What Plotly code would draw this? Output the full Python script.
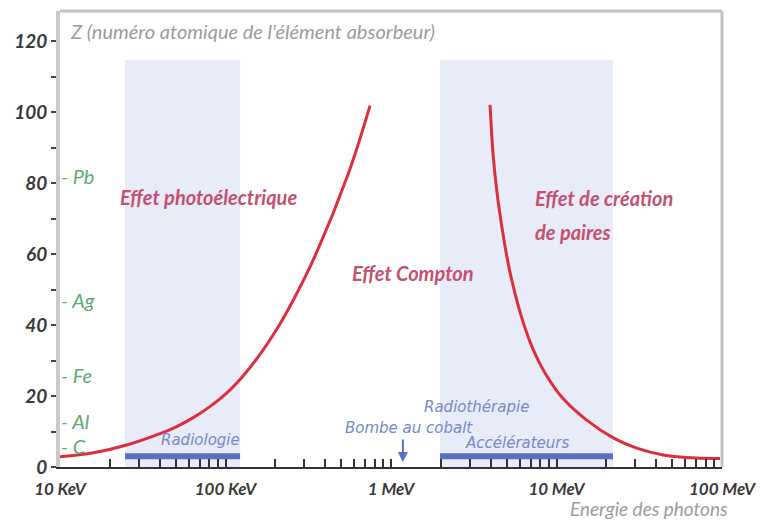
import numpy as np
import plotly.graph_objects as go

# ---- data (energies in keV, Z = atomic number) ----
photo_E = [10, 15.9, 25.3, 40.2, 50.8, 63.8, 80.5, 101.6, 128, 162, 204, 256, 345, 552, 747]
photo_Z = [2.9, 4.0, 6.2, 9.4, 11.4, 13.9, 17.0, 20.8, 25.7, 31.8, 38.8, 46.9, 59.1, 82.6, 101.8]
pair_E = [3965, 4151, 4353, 4667, 5001, 5362, 6301, 7241, 8520, 10990, 15220,
          22040, 30520, 44190, 70330, 97260]
pair_Z = [102.0, 87.3, 78.0, 67.9, 59.6, 52.7, 40.6, 33.0, 26.5, 19.2, 13.2,
          8.2, 5.3, 3.4, 2.5, 2.4]

x_tick_vals = [10, 100, 1000, 10000, 100000]
x_tick_text = ["10 KeV", "100 KeV", "1 MeV", "10 MeV", "100 MeV"]
x_minor_vals = [m * 10 ** k for k in range(1, 5) for m in range(2, 10)]
y_tick_vals = [0, 20, 40, 60, 80, 100, 120]
y_minor_vals = [10, 30, 50, 70, 90, 110]

elements = ["Pb", "Ag", "Fe", "Al", "C"]
element_Z = [82, 47, 26, 13, 6]

radiologie_range = [24.7, 122.5]
accel_range = [1977, 21940]
band_top = 114.6
bar_Z = 3.0
cobalt_E = 1180

LBL = "Lato"
RED = "#dc2f3c"
TXT_RED = "#c4516f"
BLUE_TXT = "#7788cc"
BLUE_BAR = "#5a6ec6"
GREEN = "#5aab6e"
SHADE = "#e8ebf8"

fig = go.Figure()

# shaded application bands
for rng in (radiologie_range, accel_range):
    fig.add_trace(go.Scatter(x=[rng[0], rng[1], rng[1], rng[0], rng[0]],
                             y=[0, 0, band_top, band_top, 0], mode="lines",
                             fill="toself", fillcolor=SHADE, line=dict(width=0),
                             hoverinfo="skip", showlegend=False))

# blue bars
for rng in (radiologie_range, accel_range):
    fig.add_trace(go.Scatter(x=rng, y=[bar_Z, bar_Z], mode="lines",
                             line=dict(color=BLUE_BAR, width=6),
                             hoverinfo="skip", showlegend=False))

# boundary curves
for ex, zz in ((photo_E, photo_Z), (pair_E, pair_Z)):
    fig.add_trace(go.Scatter(x=ex, y=zz, mode="lines",
                             line=dict(color=RED, width=3, shape="spline", smoothing=1.0),
                             hoverinfo="skip", showlegend=False))

shapes = [
    dict(type="line", xref="paper", yref="paper", x0=0, x1=1, y0=1, y1=1,
         line=dict(color="#c2c2c2", width=3)),
    dict(type="line", xref="paper", yref="paper", x0=1, x1=1, y0=0, y1=1,
         line=dict(color="#c2c2c2", width=3)),
]

W = 662.0
def px(xp):
    return (xp - 60) / W

ann = []
def txt(text, x, y, color, size, xanchor="left", family=LBL, weight="normal"):
    ann.append(dict(text=text, x=x, y=y, xref="paper", yref="y", showarrow=False,
                    xanchor=xanchor, yanchor="middle",
                    font=dict(family=family, size=size, color=color, style="italic",
                              weight=weight)))

txt("Z (numéro atomique de l'élément absorbeur)", px(68), 122.8, "#9c9c9c", 20)
txt("Effet photoélectrique", px(118), 76, TXT_RED, 20, weight="bold")
txt("Effet Compton", px(350), 54.6, TXT_RED, 20, weight="bold")
txt("Effet de création", px(533), 75.8, TXT_RED, 20, weight="bold")
txt("de paires", px(533), 66.2, TXT_RED, 20, weight="bold")
txt("Radiologie", px(200), 7.6, BLUE_TXT, 15, xanchor="center", family="DejaVu Sans")
txt("Bombe au cobalt", px(409), 11.0, BLUE_TXT, 15, xanchor="center", family="DejaVu Sans")
txt("Radiothérapie", px(476), 16.9, BLUE_TXT, 15, xanchor="center", family="DejaVu Sans")
txt("Accélérateurs", px(517), 6.8, BLUE_TXT, 15, xanchor="center", family="DejaVu Sans")
for el, z in zip(elements, element_Z):
    txt("- " + el, px(59), z, GREEN, 20)
ann.append(dict(text="Energie des photons", x=px(730), y=-0.09, xref="paper", yref="paper",
                showarrow=False, xanchor="right", yanchor="middle",
                font=dict(family=LBL, size=19, color="#9c9c9c", style="italic")))
ann.append(dict(text="", x=np.log10(cobalt_E), y=1.4, xref="x", yref="y",
                showarrow=True, ax=0, ay=-24, arrowhead=2, arrowsize=1,
                arrowwidth=2, arrowcolor=BLUE_BAR))

fig.update_layout(
    width=769, height=522,
    margin=dict(l=60, r=47, t=11, b=55),
    paper_bgcolor="white", plot_bgcolor="white",
    shapes=shapes, annotations=ann,
    xaxis=dict(type="log", range=[1, 5], showgrid=False, zeroline=False, automargin=False,
               tickvals=x_tick_vals, ticktext=x_tick_text,
               ticks="inside", ticklen=8, tickwidth=2, tickcolor="#333",
               ticklabelstandoff=6,
               showline=True, linecolor="#333", linewidth=2,
               tickfont=dict(family=LBL, size=17, color="#3a3a3a", style="italic", weight="bold"),
               minor=dict(tickvals=x_minor_vals, ticks="inside", ticklen=8,
                          tickwidth=2, tickcolor="#333")),
    yaxis=dict(range=[0, 128.45], showgrid=False, zeroline=False, automargin=False,
               tickvals=y_tick_vals, ticks="outside", ticklen=5, tickwidth=2,
               tickcolor="#444", showline=True, linecolor="#cacaca", linewidth=4,
               tickfont=dict(family=LBL, size=19, color="#3a3a3a", style="italic", weight="bold"),
               minor=dict(tickvals=y_minor_vals, ticks="outside", ticklen=5,
                          tickwidth=2, tickcolor="#444")),
)

fig.write_html("out.html", config={"displayModeBar": False},
               post_script="document.body.style.margin='0';")
